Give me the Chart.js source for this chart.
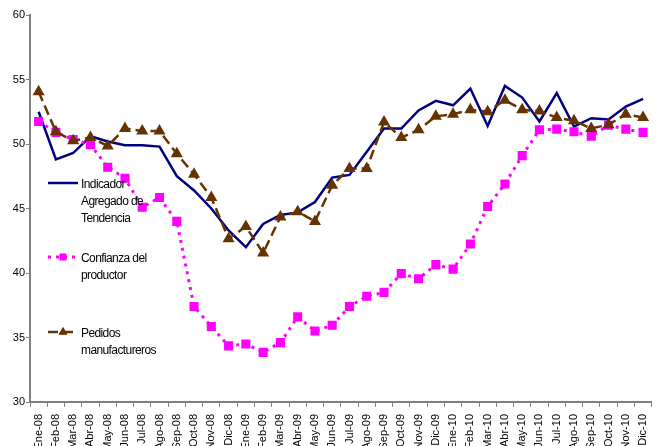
<!DOCTYPE html>
<html>
<head>
<meta charset="utf-8">
<script src="https://cdn.jsdelivr.net/npm/chart.js@4.4.1/dist/chart.umd.min.js"></script>
<style>
  html, body { margin: 0; padding: 0; background: #fff; overflow: hidden; }
  .wrap { position: relative; width: 659px; height: 446px; }
  .lg {
    position: absolute;
    font-family: "Liberation Sans Narrow", "Arial Narrow", "Liberation Sans", sans-serif;
    font-size: 12px;
    line-height: 17px;
    letter-spacing: -0.6px;
    color: #000;
    white-space: nowrap;
  }
</style>
</head>
<body>
<div class="wrap">
  <canvas id="chart" width="659" height="446"></canvas>
  <div class="lg" style="left:81px; top:176px;">Indicador<br>Agregado de<br>Tendencia</div>
  <div class="lg" style="left:81px; top:250px;">Confianza del<br>productor</div>
  <div class="lg" style="left:81px; top:325px;">Pedidos<br>manufactureros</div>
</div>
<script>
// months Ene-08 .. Dic-10
const months = ['Ene-08', 'Feb-08', 'Mar-08', 'Abr-08', 'May-08', 'Jun-08', 'Jul-08', 'Ago-08', 'Sep-08', 'Oct-08', 'Nov-08', 'Dic-08',
  'Ene-09', 'Feb-09', 'Mar-09', 'Abr-09', 'May-09', 'Jun-09', 'Jul-09', 'Ago-09', 'Sep-09', 'Oct-09', 'Nov-09', 'Dic-09',
  'Ene-10', 'Feb-10', 'Mar-10', 'Abr-10', 'May-10', 'Jun-10', 'Jul-10', 'Ago-10', 'Sep-10', 'Oct-10', 'Nov-10', 'Dic-10'];

const indicador = [52.5, 48.8, 49.3, 50.6, 50.2, 49.9, 49.9, 49.8, 47.5, 46.4, 45.0, 43.3,
  42.0, 43.8, 44.5, 44.7, 45.5, 47.4, 47.6, 49.4, 51.2, 51.2, 52.6, 53.35,
  53.0, 54.3, 51.4, 54.5, 53.6, 51.75, 53.95, 51.35, 52.0, 51.9, 52.9, 53.5];

const confianza = [51.75, 50.9, 50.35, 49.95, 48.2, 47.35, 45.1, 45.85, 44.0, 37.4, 35.85, 34.35,
  34.5, 33.85, 34.6, 36.6, 35.5, 35.95, 37.4, 38.2, 38.5, 39.95, 39.55, 40.65,
  40.3, 42.25, 45.15, 46.9, 49.1, 51.1, 51.15, 50.95, 50.6, 51.45, 51.15, 50.9];

const pedidos = [54.05, 50.95, 50.25, 50.5, 49.85, 51.2, 51.0, 51.0, 49.25, 47.65, 45.85, 42.65,
  43.6, 41.55, 44.35, 44.75, 44.0, 46.8, 48.1, 48.1, 51.7, 50.5, 51.1, 52.15,
  52.3, 52.65, 52.5, 53.4, 52.65, 52.55, 52.05, 51.8, 51.2, 51.5, 52.3, 52.05];

const yTicks = [30, 35, 40, 45, 50, 55, 60];

const axisFont = { family: '"Liberation Sans Narrow", "Arial Narrow", "Liberation Sans", sans-serif', size: 11 };

// legend samples drawn next to the html text
const legendSamples = {
  id: 'legendSamples',
  afterDraw(chart) {
    const ctx = chart.ctx;
    const items = [
      { ds: chart.data.datasets[0], y: 183 },
      { ds: chart.data.datasets[1], y: 257 },
      { ds: chart.data.datasets[2], y: 332 },
    ];
    items.forEach(it => {
      const ds = it.ds;
      ctx.save();
      ctx.strokeStyle = ds.borderColor;
      ctx.lineWidth = ds.borderWidth;
      ctx.setLineDash(ds.borderDash || []);
      ctx.beginPath();
      ctx.moveTo(48, it.y);
      ctx.lineTo(78, it.y);
      ctx.stroke();
      ctx.setLineDash([]);
      if (ds.pointRadius > 0) {
        ctx.fillStyle = ds.pointBackgroundColor;
        ctx.strokeStyle = ds.pointBorderColor;
        ctx.lineWidth = 1;
        Chart.helpers.drawPoint(ctx, { pointStyle: ds.pointStyle, radius: ds.pointRadius, borderWidth: 1, rotation: 0 }, 63, it.y);
      }
      ctx.restore();
    });
  }
};

new Chart(document.getElementById('chart').getContext('2d'), {
  type: 'line',
  data: {
    labels: months,
    datasets: [
      {
        label: 'Indicador Agregado de Tendencia',
        data: indicador,
        borderColor: '#000080',
        backgroundColor: '#000080',
        borderWidth: 2.5,
        pointRadius: 0,
        tension: 0,
        order: 3,
      },
      {
        label: 'Confianza del productor',
        data: confianza,
        borderColor: '#ff00ff',
        backgroundColor: '#ff00ff',
        borderWidth: 3,
        borderDash: [3, 5],
        pointStyle: 'rect',
        pointRadius: 4.3,
        pointBackgroundColor: '#ff00ff',
        pointBorderColor: '#ff00ff',
        tension: 0,
        order: 2,
      },
      {
        label: 'Pedidos manufactureros',
        data: pedidos,
        borderColor: '#663300',
        backgroundColor: '#663300',
        borderWidth: 2.5,
        borderDash: [10, 5],
        pointStyle: 'triangle',
        pointRadius: 4.5,
        pointBackgroundColor: '#663300',
        pointBorderColor: '#663300',
        tension: 0,
        order: 1,
      },
    ],
  },
  options: {
    responsive: false,
    animation: false,
    layout: { padding: { left: 0, right: 2, top: 15, bottom: 0 } },
    plugins: {
      legend: { display: false },
      tooltip: { enabled: false },
    },
    scales: {
      x: {
        offset: true,
        grid: {
          offset: true,
          drawOnChartArea: false,
          drawTicks: true,
          tickLength: 5,
          color: '#808080',
        },
        border: { display: true, color: '#808080', width: 2 },
        ticks: {
          autoSkip: false,
          maxRotation: 90,
          minRotation: 90,
          padding: 7,
          color: '#000',
          font: axisFont,
        },
        afterFit(scale) {
          scale.height = 44;
          scale.paddingLeft = 0;
          scale.paddingRight = 0;
        },
      },
      y: {
        min: 30,
        max: 60,
        afterBuildTicks(scale) { scale.ticks = yTicks.map(v => ({ value: v })); },
        grid: {
          drawOnChartArea: false,
          drawTicks: true,
          tickLength: 4,
          color: '#808080',
        },
        border: { display: true, color: '#808080', width: 2 },
        ticks: {
          padding: 1,
          color: '#000',
          font: axisFont,
        },
        afterFit(scale) { scale.width = 30; },
      },
    },
  },
  plugins: [legendSamples],
});
</script>
</body>
</html>
